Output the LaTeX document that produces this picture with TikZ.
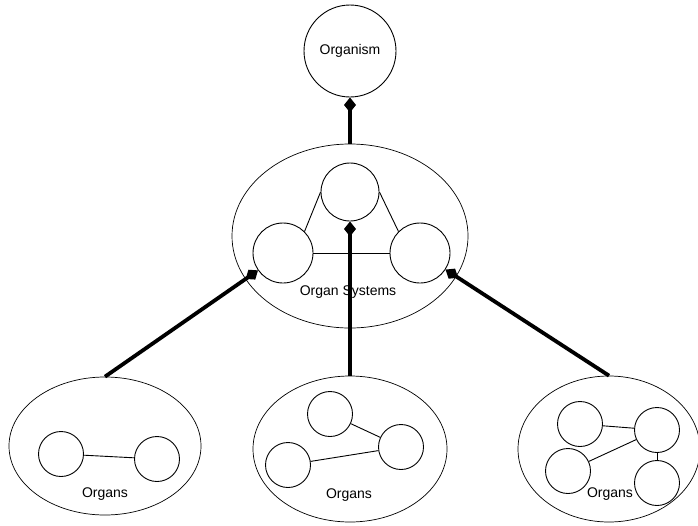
\documentclass[tikz,border=0pt]{standalone}
\usepackage{fontspec}
\setmainfont{Liberation Sans}
\usetikzlibrary{shapes.geometric,arrows.meta}
\begin{document}
\begin{tikzpicture}[x=1pt,y=-1pt,
  cell/.style={draw, circle, line width=0.9pt, inner sep=0pt, minimum size=#1},
  cell/.default=45,
  group/.style={draw, ellipse, line width=0.7pt, inner sep=0pt},
  lbl/.style={font=\fontsize{14}{16}\selectfont, inner sep=0pt},
  link/.style={line width=0.9pt},
  part/.style={line width=3.8pt, {Diamond[length=15pt,width=12pt]}-}
]
\useasboundingbox (0,0) rectangle (698,525);
% top
\node[cell=92] (org) at (350,51) {};
\node[lbl] (orgt) at (350,51) {Organism};
% organ systems
\node[group, minimum width=236, minimum height=184] (sys) at (350,236) {};
\node[cell=58] (s1) at (350,192) {};
\node[cell=60] (s2) at (283,253) {};
\node[cell=60] (s3) at (420,253) {};
\node[lbl] (syst) at (348,292) {Organ Systems};
\draw[link] (s1.west) -- (s2.north east);
\draw[link] (s1.east) -- (s3.north west);
\draw[link] (s2) -- (s3);
% bottom left
\node[group, minimum width=192, minimum height=138] (gl) at (105,446) {};
\node[cell] (l1) at (61,454) {};
\node[cell] (l2) at (157,459) {};
\node[lbl] (glt) at (105,494) {Organs};
\draw[link] (l1) -- (l2);
% bottom middle
\node[group, minimum width=194, minimum height=146] (gm) at (350,449) {};
\node[cell] (m1) at (330,414) {};
\node[cell] (m2) at (401,447) {};
\node[cell] (m3) at (288,465) {};
\node[lbl] (gmt) at (349,495) {Organs};
\draw[link] (m1) -- (m2);
\draw[link] (m3) -- (m2);
% bottom right
\node[group, minimum width=182, minimum height=146] (gr) at (609,449) {};
\node[cell] (r1) at (580,424) {};
\node[cell] (r2) at (657,430) {};
\node[cell] (r3) at (568,471) {};
\node[cell] (r4) at (657,483) {};
\node[lbl] (grt) at (610,494) {Organs};
\draw[link] (r1) -- (r2);
\draw[link] (r3) -- (r2);
\draw[link] (r2) -- (r4);
% composition connectors
\draw[part] (org) -- (sys.north);
\draw[part] (s1) -- (gm.north);
\draw[part] (s2) -- (gl.north);
\draw[part] (s3) -- (gr.north);
\end{tikzpicture}
\end{document}
